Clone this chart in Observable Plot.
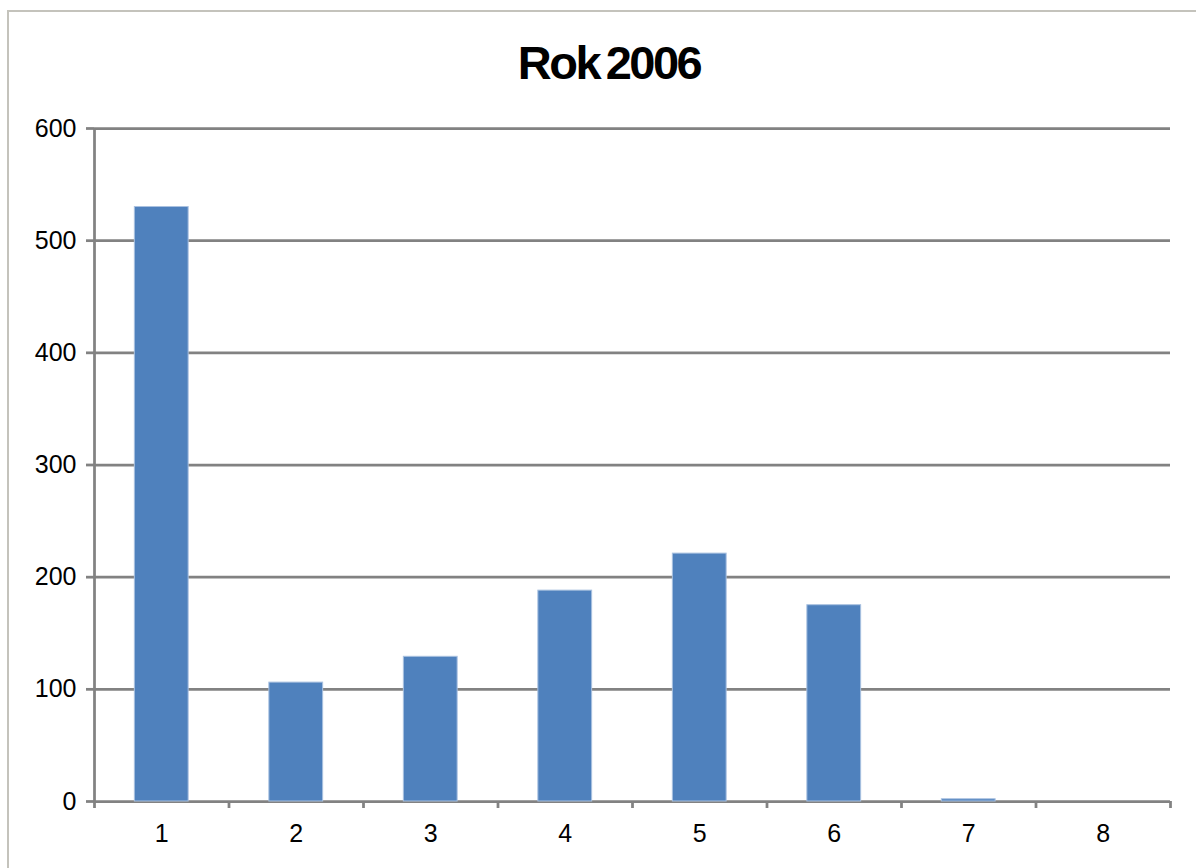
<!DOCTYPE html>
<html>
<head>
<meta charset="utf-8">
<script src="https://cdn.jsdelivr.net/npm/d3@7"></script>
<script src="https://cdn.jsdelivr.net/npm/@observablehq/plot@0.6"></script>
<style>
  html, body { margin: 0; padding: 0; background: #fff; }
  #wrap { position: relative; width: 1196px; height: 868px; overflow: hidden; }
  #frame { position: absolute; left: 7px; top: 10px; width: 1300px; height: 1000px;
           border-top: 2px solid #c4c3bc; border-left: 2px solid #c4c3bc; }
  #title { position: absolute; left: 0; width: 1218px; top: 35px; text-align: center;
           font-family: "Liberation Sans", Arial, sans-serif; font-weight: bold;
           font-size: 47px; letter-spacing: -2.5px; word-spacing: -4px; color: #000; }
  #chart { position: absolute; left: 0; top: 0; }
</style>
</head>
<body>
<div id="wrap">
  <div id="frame"></div>
  <div id="title">Rok 2006</div>
  <div id="chart"></div>
</div>
<script>
const categories = [1, 2, 3, 4, 5, 6, 7, 8];
const values = [530, 106, 129, 188, 221, 175, 2, 0];
const yTicks = [0, 100, 200, 300, 400, 500, 600];
const xLabels = ["1", "2", "3", "4", "5", "6", "7", "8"];

const data = categories.map((c, i) => ({cat: c, value: values[i]}));
const boundaries = d3.range(0.5, categories.length + 1, 1);
const half = 0.2;
const gray = "#828282";

const chart = Plot.plot({
  width: 1196,
  height: 868,
  marginLeft: 94,
  marginRight: 26,
  marginTop: 128,
  marginBottom: 67,
  style: {fontFamily: "'Liberation Sans', Arial, sans-serif", fontSize: "25px", color: "#000", background: "transparent"},
  x: {type: "linear", domain: [0.5, categories.length + 0.5]},
  y: {domain: [0, 600]},
  marks: [
    Plot.ruleY(yTicks, {stroke: gray, strokeWidth: 2.75}),
    Plot.ruleX([0.5], {y1: 0, y2: 600, stroke: gray, strokeWidth: 2.75}),
    Plot.rectY(data, {x1: d => d.cat - half, x2: d => d.cat + half, y1: 0, y2: "value", fill: "#4f81bd", stroke: "#a9c1e0", strokeWidth: 1}),
    Plot.axisY({ticks: yTicks, tickSize: 8, tickPadding: 10, stroke: gray, strokeWidth: 2.75, fill: "#000", label: null}),
    Plot.axisX({ticks: boundaries, tickFormat: () => "", tickSize: 7, stroke: gray, strokeWidth: 2.75, label: null}),
    Plot.axisX({ticks: categories, tickFormat: (d, i) => xLabels[i], tickSize: 0, tickPadding: 23, fill: "#000", label: null})
  ]
});
document.getElementById("chart").appendChild(chart);
</script>
</body>
</html>
